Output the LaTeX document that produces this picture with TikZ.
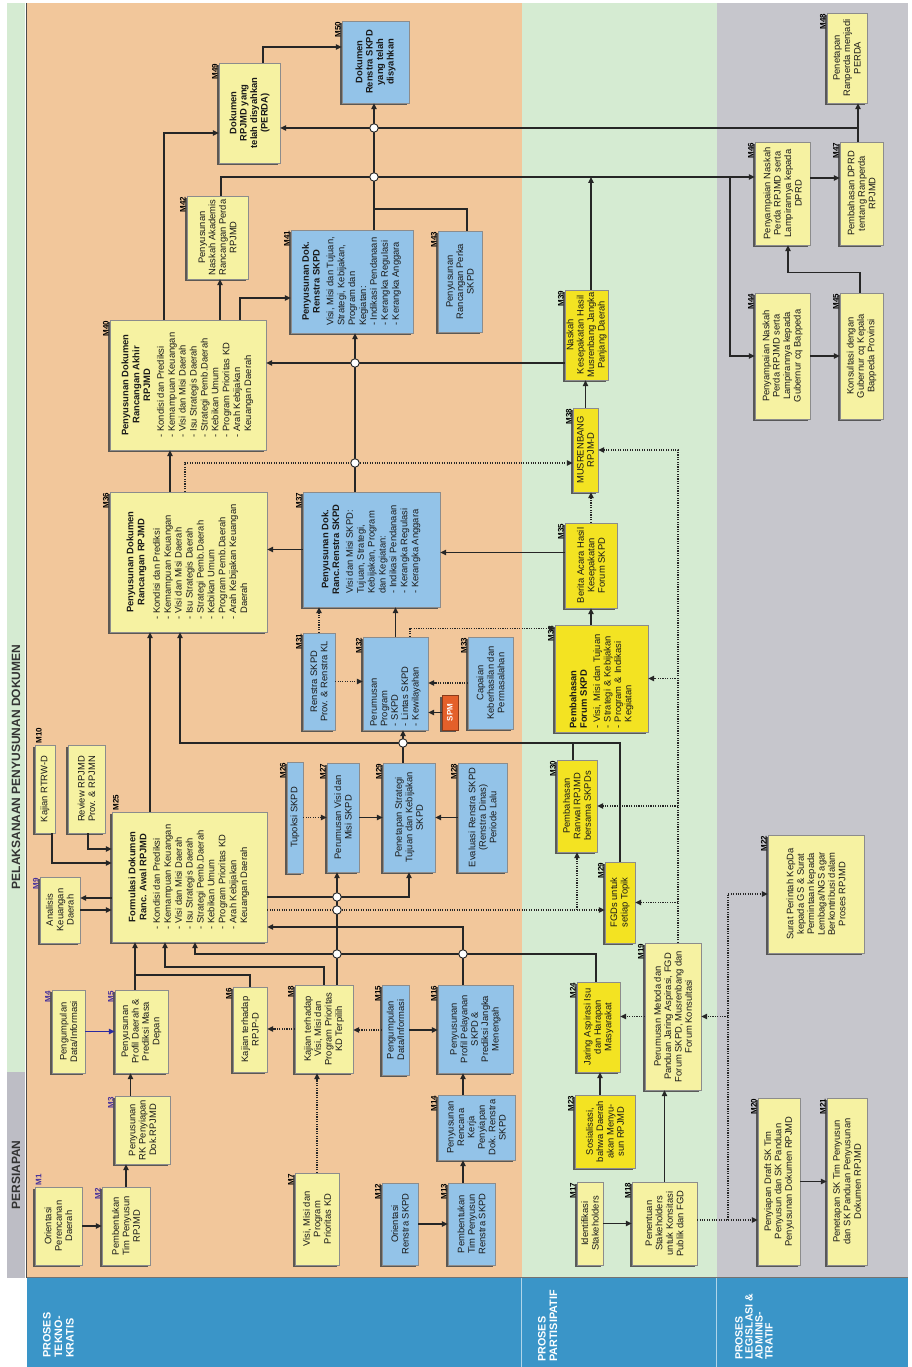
\documentclass[tikz,border=0pt]{standalone}
\usepackage{fontspec}
\setmainfont{Liberation Sans}
\usetikzlibrary{arrows.meta,shadows}
\definecolor{bgorange}{HTML}{F2C79B}
\definecolor{bggreen}{HTML}{D5EBD2}
\definecolor{bggrey}{HTML}{C6C6CC}
\definecolor{hdrgrey}{HTML}{BDBDC5}
\definecolor{bandblue}{HTML}{3A95C8}
\definecolor{boxyel}{HTML}{F6F2A2}
\definecolor{boxblue}{HTML}{93C3E8}
\definecolor{boxgold}{HTML}{F3E322}
\definecolor{spmred}{HTML}{E4602A}
\definecolor{linec}{HTML}{262626}
\definecolor{labpurple}{HTML}{45309A}
\definecolor{arrblue}{HTML}{2A2AA0}
\newcommand{\itemlist}[1]{\begin{tabular}{@{}l@{}}#1\end{tabular}}
\begin{document}
\begin{tikzpicture}[x=1pt,y=1pt,
  box/.style={rectangle,draw=black!45,line width=0.4pt,inner xsep=1.5pt,inner ysep=1pt,align=center,text=black!90,
    font=\fontsize{9.4}{10.4}\selectfont,
    drop shadow={shadow xshift=-2.2pt,shadow yshift=-2.2pt,fill=black!70,opacity=0.9}},
  ybox/.style={box,fill=boxyel},
  bbox/.style={box,fill=boxblue},
  gbox/.style={box,fill=boxgold},
  big/.style={font=\fontsize{9.4}{10.9}\selectfont},
  sz/.style 2 args={minimum width=#1,minimum height=#2},
  mlab/.style={font=\bfseries\fontsize{8}{8}\selectfont,inner sep=1pt,text=black},
  lab/.style={label={[mlab,anchor=south east]north east:#1}},
  plab/.style={label={[mlab,text=labpurple,anchor=south east]north east:#1}},
  rlab/.style={label={[mlab,anchor=north west]north east:#1}},
  prlab/.style={label={[mlab,text=labpurple,anchor=north west]north east:#1}},
  arr/.style={draw=linec,line width=1.1pt,-{Triangle[length=6pt,width=5.5pt]}},
  dotarr/.style={arr,dash pattern=on 1.1pt off 1.3pt},
  ln/.style={draw=linec,line width=1.1pt},
  jc/.style={circle,draw=linec,fill=white,line width=0.9pt,minimum size=8.5pt,inner sep=0pt},
  hdr/.style={font=\bfseries\fontsize{12}{12}\selectfont,text=black!80,inner sep=0pt},
  proc/.style={font=\bfseries\fontsize{10.8}{11.4}\selectfont,text=white,align=left,anchor=north west,inner sep=0pt}]
\useasboundingbox (-912,0) rectangle (0,1367);
\begin{scope}[rotate=90,transform shape]
\fill[bgorange] (89,390) rectangle (1364,885);
\fill[bggreen] (89,195) rectangle (1364,390);
\fill[bggrey] (89,4) rectangle (1364,195);
\fill[bandblue] (0,4) rectangle (89,885);
\draw[white!60!bandblue,line width=1pt] (0,390)--(89,390) (0,195)--(89,195);
\fill[bggreen] (295,887) rectangle (1364,905);
\fill[hdrgrey] (89,887) rectangle (295,905);
\draw[black!70,line width=1.2pt] (89,885.5)--(1364,885.5);
\draw[black!55,line width=1pt] (89,4)--(89,885);
\node[hdr] (persiapan) at (192,896) {PERSIAPAN};
\node[hdr] (pelaksanaan) at (600,896) {PELAKSANAAN PENYUSUNAN DOKUMEN};
\node[proc] (tekno) at (9,869) {PROSES\\TEKNO-\\KRATIS};
\node[proc] (partisipatif) at (5,374) {PROSES\\PARTISIPATIF};
\node[proc,font=\bfseries\fontsize{10.5}{10}\selectfont] (legislasi) at (7,177) {PROSES\\LEGISLASI \&\\ADMINIS-\\TRATIF};

\node[ybox,sz={78}{47},prlab=M1] (m1) at (141,853.5) {Orientasi\\Perencanan\\Daerah};
\node[ybox,sz={78}{48},plab=M2] (m2) at (141,786) {Pembentukan\\Tim Penyusun\\RPJMD};
\node[ybox,sz={68}{55},plab=M3] (m3) at (237,769.5) {Penyusunan\\RK Penyiapan\\Dok.RPJMD};
\node[ybox,sz={83}{33},plab=M4] (m4) at (335.5,843.5) {Pengumpulan\\Data/Informasi};
\node[ybox,sz={83}{53},plab=M5] (m5) at (335.5,770.5) {Penyusunan\\Profil Daerah \&\\Prediksi Masa\\Depan};
\node[ybox,sz={85}{34},lab=M6] (m6) at (337.5,662) {Kajian terhadap\\RPJP-D};
\node[ybox,sz={92}{44},lab=M7] (m7) at (148,595) {Visi, Misi dan\\Program\\Prioritas KD};
\node[ybox,sz={88}{58},lab=M8] (m8) at (338,588) {Kajian terhadap\\Visi, Misi dan\\Program Prioritas\\KD Terpilih};
\node[ybox,sz={66}{40},plab=M9] (m9) at (457,852) {Analisis\\Keuangan\\Daerah};
\node[ybox,sz={88}{20},rlab=M10] (m10) at (578,867) {Kajian RTRW-D};
\node[ybox,sz={88}{37}] (m10b) at (578,825.5) {Review RPJMD\\Prov. \& RPJMN};
\node[bbox,sz={82}{36},lab=M12] (m12) at (143,512) {Orientasi\\Renstra SKPD};
\node[bbox,sz={82}{47},lab=M13] (m13) at (143,440.5) {Pembentukan\\Tim Penyusun\\Renstra SKPD};
\node[bbox,sz={65}{77},lab=M14] (m14) at (239.5,435.5) {Penyusunan\\Rencana\\Kerja\\Penyiapan\\Dok. Renstra\\SKPD};
\node[bbox,sz={90}{27},lab=M15] (m15) at (337,516.5) {Pengumpulan\\Data/Informasi};
\node[bbox,sz={88}{75},lab=M16] (m16) at (338,436.5) {Penyusunan\\Profil Pelayanan\\SKPD \&\\Prediksi Jangka\\Menengah};
\node[ybox,sz={83}{26},lab=M17] (m17) at (143.5,322) {Identifikasi\\Stakeholders};
\node[ybox,sz={83}{65},lab=M18] (m18) at (143.5,247.5) {Penentuan\\Stakeholders\\untuk Konsitasi\\Publik dan FGD};
\node[ybox,sz={147}{56},lab=M19] (m19) at (350.5,239) {Perumusan Metoda dan\\Panduan Jaring Aspirasi, FGD\\Forum SKPD, Musrenbang dan\\Forum Konsultasi};
\node[ybox,sz={167}{42},lab=M20] (m20) at (185.5,133) {Penyiapan Draft SK Tim\\Penyusun dan SK Panduan\\Penyusunan Dokumen RPJMD};
\node[ybox,sz={167}{40},lab=M21] (m21) at (185.5,65) {Penetapan SK Tim Penyusun\\dan SK Panduan Penyusunan\\Dokumen RPJMD};
\node[ybox,sz={118}{96},lab=M22] (m22) at (473,96) {Surat Perintah KepDa\\kepada GS \& Surat\\Permintaan kepada\\Lembaga/NGS agar\\Berkontribusi dalam\\Proses RPJMD};
\node[gbox,sz={73}{60},lab=M23] (m23) at (235.5,307) {Sosialisasi,\\bahwa Daerah\\akan Menyu-\\sun RPJMD};
\node[gbox,sz={90}{43},lab=M24] (m24) at (340,313.5) {Jaring Aspirasi Isu\\dan Harapan\\Masyarakat};
\node[ybox,big,sz={130}{155},rlab=M25] (m25) at (490,722.5) {\textbf{Formulasi Dokumen}\\\textbf{Ranc. Awal RPJMD}\\[5pt]\itemlist{- Kondisi dan Prediksi\\- Kemampuan Keuangan\\- Visi dan Misi Daerah\\- Isu Strategis Daerah\\- Strategi Pemb.Daerah\\- Kebikan Umum\\- Program Prioritas KD\\- Arah Kebijakan\\\phantom{- }Keuangan Daerah}};
\node[bbox,sz={111}{16},lab=M26] (m26) at (549.5,617) {Tupoksi SKPD};
\node[bbox,sz={109}{32},lab=M27] (m27) at (549.5,569) {Perumusan Visi dan\\Misi SKPD};
\node[bbox,sz={109}{52},lab=M29] (m29) at (549.5,503) {Penetapan Strategi\\Tujuan dan Kebijakan\\SKPD};
\node[bbox,sz={109}{49},lab=M28] (m28) at (549.5,429.5) {Evaluasi Renstra SKPD\\(Renstra Dinas)\\Periode Lalu};
\node[gbox,sz={92}{40},lab=M30] (m30) at (561,335) {Pembahasan\\Ranwal RPJMD\\bersama SKPDs};
\node[gbox,sz={81}{30},lab=M29] (m29b) at (464.5,292) {FGDs untuk\\setiap Topik};
\node[bbox,sz={97}{32},lab=M31] (m31) at (685.5,593) {Renstra SKPD\\Prov. \& Renstra KL};
\node[bbox,sz={93}{65},lab=M32,align=left,text width=86] (m32) at (683.5,516.5) {Perumusan\\Program\\- SKPD\\- Lintas SKPD\\- Kewilayahan};
\node[box,fill=spmred,draw=spmred!60!black,text=white,font=\bfseries\fontsize{8}{8}\selectfont,sz={35}{16}] (spm) at (654.5,462) {SPM};
\node[bbox,sz={92}{45},lab=M33] (m33) at (684,421.5) {Capaian\\Keberhasilan dan\\Permasalahan};
\node[gbox,sz={107}{93},lab=M34,align=left,text width=100] (m34) at (688.5,310.5) {\textbf{Pembahasan}\\\textbf{Forum SKPD}\\[3pt]- Visi, Misi dan Tujuan\\- Strategi \& Kebijakan\\- Program \& Indikasi\\\phantom{- }Kegiatan};
\node[gbox,sz={85}{52},lab=M35] (m35) at (801.5,321) {Berita Acara Hasil\\Kesepakatan\\Forum SKPD};
\node[ybox,big,sz={140}{157},lab=M36] (m36) at (805,723.5) {\textbf{Penyusunan Dokumen}\\\textbf{Rancangan RPJMD}\\[5pt]\itemlist{- Kondisi dan Prediksi\\- Kemampuan Keuangan\\- Visi dan Misi Daerah\\- Isu Strategis Daerah\\- Strategi Pemb.Daerah\\- Kebikan Umum\\- Program Pemb.Daerah\\- Arah Kebijakan Keuangan\\\phantom{- }Daerah}};
\node[bbox,big,sz={115}{137},lab=M37] (m37) at (817.5,540.5) {\textbf{Penyusunan Dok.}\\\textbf{Ranc.Renstra SKPD}\\[5pt]\itemlist{Visi dan Misi SKPD:\\Tujuan, Strategi,\\Kebijakan, Program\\dan Kegiatan:\\- Indikasi Pendanaan\\- Kerangka Regulasi\\- Kerangka Anggara}};
\node[gbox,sz={84}{25},lab=M38] (m38) at (917,326.5) {MUSRENBANG\\RPJM-D};
\node[gbox,sz={90}{43},lab=M39] (m39) at (1032,325.5) {Naskah\\Kesepakatan Hasil\\Musrenbang Jangka\\Panjang Daerah};
\node[ybox,big,sz={130}{156},lab=M40] (m40) at (982,724) {\textbf{Penyusunan Dokumen}\\\textbf{Rancangan Akhir}\\\textbf{RPJMD}\\[5pt]\itemlist{- Kondisi dan Prediksi\\- Kemampuan Keuangan\\- Visi dan Misi Daerah\\- Isu Strategis Daerah\\- Strategi Pemb.Daerah\\- Kebikan Umum\\- Program Prioritas KD\\- Arah Kebijakan\\\phantom{- }Keuangan Daerah}};
\node[bbox,big,sz={103}{122},lab=M41] (m41) at (1085.5,560) {\textbf{Penyusunan Dok.}\\\textbf{Renstra SKPD}\\[5pt]\itemlist{Visi, Misi dan Tujuan,\\Strategi, Kebijakan,\\Program dan\\Kegiatan:\\- Indikasi Pendanaan\\- Kerangka Regulasi\\- Kerangka Anggara}};
\node[ybox,sz={83}{61},lab=M42] (m42) at (1129.5,694.5) {Penyusunan\\Naskah Akademis\\Rancangan Perda\\RPJMD};
\node[bbox,sz={101}{44},lab=M43] (m43) at (1085.5,452) {Penyusunan\\Rancangan Perka\\SKPD};
\node[ybox,sz={126}{55},lab=M44] (m44) at (1011,129.5) {Penyampaian Naskah\\Perda RPJMD serta\\Lampirannya kepada\\Gubernur cq Bappeda};
\node[ybox,sz={126}{43},lab=M45] (m45) at (1011,50.5) {Konsultasi dengan\\Gubernur cq Kepala\\Bappeda Provinsi};
\node[ybox,sz={103}{55},lab=M46] (m46) at (1173.5,129.5) {Penyampaian Naskah\\Perda RPJMD serta\\Lampirannya kepada\\DPRD};
\node[ybox,sz={103}{43},lab=M47] (m47) at (1173.5,50.5) {Pembahasan DPRD\\tentang Ranperda\\RPJMD};
\node[ybox,sz={90}{40},lab=M48] (m48) at (1309,65) {Penetapan\\Ranperda menjadi\\PERDA};
\node[ybox,sz={100}{61},lab=M49,font=\bfseries\fontsize{9.4}{10.4}\selectfont] (m49) at (1254,662.5) {Dokumen\\RPJMD yang\\telah disyahkan\\(PERDA)};
\node[bbox,sz={82}{67},lab=M50,font=\bfseries\fontsize{9.4}{10.4}\selectfont] (m50) at (1305,536.5) {Dokumen\\Renstra SKPD\\yang telah\\disyahkan};

\coordinate (j56) at (392,777);
\coordinate (j8) at (400,747);
\coordinate (j24) at (413,717);
\coordinate (j30) at (624,292);
\coordinate (d18) at (147,184);
\coordinate (b46) at (1190,182);
\coordinate (j43) at (1158,538);
\coordinate (j47) at (1239,54);

\draw[arr] (m1.south)--(m2.north);
\draw[arr] (m2.east)--(m2.east -| m3.west);
\draw[arr] ([yshift=12]m3.east)--([yshift=12]m3.east -| m5.west);
\draw[arr,draw=arrblue] (m4.south)--(m4.south |- m5.north);
\draw[arr] ([yshift=6.5]m5.east)--([yshift=6.5]m5.east -| m25.west);
\draw[ln] (m6.east) -| (j56);
\draw[arr] (m8.east) -| (j8) -- (j8 -| m25.west);
\draw[arr] ([yshift=-13]m8.east)--([yshift=-13]m8.east -| m27.west);
\draw[arr] ([yshift=2.5]m24.east) -| (j24) -- (j24 -| m25.west);
\draw[arr] ([yshift=12.5]m16.east) -| ([xshift=-50]m25.south);
\draw[arr] ([xshift=-20]m25.south) |- (m29.west);
\draw[dotarr] ([xshift=-33]m25.south)--([xshift=-33]m25.south |- m29b.north);
\draw[dotarr] ([xshift=-33]m25.south |- m30.west)--(m30.west);
\draw[arr] ([xshift=12]m9.south |- m25.north)--([xshift=12]m9.south);
\draw[arr] (m9.south)--(m9.south |- m25.north);
\draw[arr] ([yshift=-7]m10.west) -| ([xshift=14]m25.north);
\draw[arr] ([yshift=-1.5]m10b.west) -| ([xshift=28]m25.north);
\draw[arr] ([yshift=39.5]m25.east)--([yshift=39.5]m25.east -| m36.west);
\draw[arr] (m29b.east)--(j30) |- ([yshift=8.5]m36.west);
\draw[ln] ([yshift=4]m30.east)--([yshift=4]m30.east -| j30);
\draw[arr] ([yshift=6]m29.east)--([yshift=6]m29.east -| m32.west);
\draw[dotarr] (m26.south)--(m27.north);
\draw[arr] (m27.south)--(m29.north);
\draw[arr] (m28.north)--(m29.south);
\draw[arr] (m12.south)--(m13.north);
\draw[arr] ([yshift=8.5]m13.east)--([yshift=8.5]m13.east -| m14.west);
\draw[arr] ([yshift=13.5]m14.east)--([yshift=13.5]m14.east -| m16.west);
\draw[arr] (m15.south)--(m15.south |- m16.north);
\draw[dotarr] (m15.north)--(m15.north |- m8.south);
\draw[dotarr] (m7.east)--(m7.east -| m8.west);
\draw[dotarr] (m8.north)--(m8.north |- m6.south);

\draw[arr] (m17.south)--(m17.south |- m18.north);
\draw[arr] (m18.east)--(m18.east -| m19.west);
\draw[dotarr] ([xshift=3.5]m18.south)--([xshift=3.5]m18.south |- m20.north);
\draw[dotarr] (d18) -| (m22.north);
\draw[dotarr] (d18 -| m19.south)--(m19.south);
\draw[arr] (m20.south)--(m21.north);
\draw[dotarr] (m19.north)--(m19.north |- m24.south);
\draw[arr] ([yshift=5]m23.east)--([yshift=5]m23.east -| m24.west);
\draw[dotarr] ([yshift=-5]m19.east) -| (m38.south);
\draw[dotarr] ([yshift=-5]m29b.south |- m19.east)--(m29b.south);
\draw[dotarr] ([yshift=-5]m30.south |- m19.east)--(m30.south);
\draw[dotarr] ([yshift=-5]m34.south |- m19.east)--(m34.south);
\draw[arr] (m34.east |- m35.west)--(m35.west);
\draw[dotarr] (m35.east)--(m35.east -| m38.west);
\draw[arr] (m38.east)--(m38.east -| m39.west);
\draw[arr] ([xshift=13]m35.north)--([xshift=13]m35.north |- m37.south);
\draw[arr] (m32.east)--(m32.east -| m37.west);
\draw[dotarr] (m31.east)--(m31.east -| m37.west);
\draw[dotarr] (m31.south)--(m31.south |- m32.north);
\draw[dotarr] (m33.north)--(m33.north |- m32.south);
\draw[arr] (spm.north)--(spm.north |- m32.south);
\draw[dotarr] ([yshift=-14.5]m32.east) -| ([xshift=50]m34.north);

\draw[arr] (m37.north)--(m37.north |- m36.south);
\draw[arr] ([yshift=18.5]m36.east)--([yshift=18.5]m36.east -| m40.west);
\draw[dotarr] ([yshift=3.5]m36.east) -| ([xshift=-13]m38.north);
\draw[arr] ([yshift=16.5]m37.east)--([yshift=16.5]m37.east -| m41.west);
\draw[arr] ([xshift=-28]m39.north)--([xshift=-28]m39.north |- m40.south);
\draw[arr] ([yshift=-52]m40.east) -| ([xshift=-16.5]m41.north);
\draw[arr] ([yshift=-32]m40.east)--([yshift=-32]m40.east -| m42.west);
\draw[arr] ([yshift=24]m40.east) -| ([xshift=-20]m49.north);
\draw[arr] ([yshift=-3.5]m42.east) -| ([xshift=16.5]m46.north);
\draw[arr] (b46) -| (m44.north);
\draw[arr] ([yshift=-4.5]m39.east)--([yshift=-4.5]m39.east -| b46);
\draw[arr] ([yshift=-22]m41.east)--([yshift=-22]m41.east -| m50.west);
\draw[ln] ([yshift=-7]m43.east) -| (j43);
\draw[arr] ([yshift=3.5]m47.east)--([yshift=3.5]m47.east -| m48.west);
\draw[arr] (j47)--(j47 |- m49.south);
\draw[arr] ([yshift=-13.5]m49.east) -| ([xshift=15]m50.north);
\draw[arr] (m44.south)--(m45.north);
\draw[arr] ([yshift=1.5]m45.east)--++(20,0) |- ([yshift=-5.5]m46.west);
\draw[arr] ([xshift=15.5]m46.south)--([xshift=15.5]m47.north);

\node[jc] (c1) at (470,575) {};
\node[jc] (c2) at (457,575) {};
\node[jc] (c3) at (413,575) {};
\node[jc] (c4) at (413,449) {};
\node[jc] (c5) at (624,509) {};
\node[jc] (c6) at (904,557) {};
\node[jc] (c7) at (1004,557) {};
\node[jc] (c8) at (1190,538) {};
\node[jc] (c9) at (1239,538) {};
\end{scope}
\end{tikzpicture}
\end{document}
